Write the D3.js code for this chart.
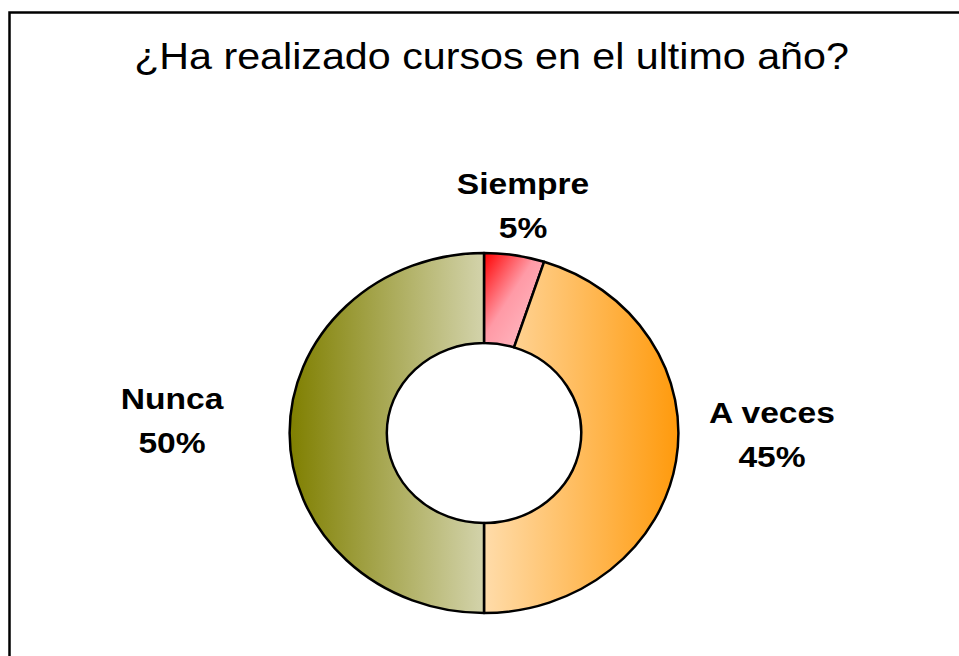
<!DOCTYPE html>
<html>
<head>
<meta charset="utf-8">
<script src="https://cdn.jsdelivr.net/npm/d3@7"></script>
<style>
  body { margin: 0; background: #fff; }
  text { font-family: "Liberation Sans", Arial, sans-serif; }
</style>
</head>
<body>
<div id="chart"></div>
<script>
// data
var categories = ["Siempre", "A veces", "Nunca"];
var values = [5, 45, 50];
var title = "¿Ha realizado cursos en el ultimo año?";

// gradient stops per slice (style only)
var sliceGrad = {
  "Siempre": {x1: "0%", y1: "0%", x2: "100%", y2: "100%", stops: [["0%", "#ff0000"], ["45%", "#ff9aa6"], ["100%", "#ffc4cc"]]},
  "A veces": {x1: "0%", y1: "0%", x2: "100%", y2: "0%", stops: [["0%", "#ffdcaa"], ["100%", "#ff9a0c"]]},
  "Nunca":   {x1: "0%", y1: "0%", x2: "100%", y2: "0%", stops: [["0%", "#7f7f00"], ["100%", "#d3d3ab"]]}
};

// label centres (layout)
var labelPos = {
  "Siempre": [523, 194],
  "A veces": [772, 423],
  "Nunca":   [172, 409]
};

var width = 959, height = 656;
var cx = 484, cy = 433, rOuter = 180, rInner = 90, stretch = 1.08;

var svg = d3.select("#chart")
  .append("svg")
    .attr("width", width)
    .attr("height", height);

// frame (runs off the right and bottom edges)
svg.append("rect")
  .attr("x", 9.5).attr("y", 12.5)
  .attr("width", 1200).attr("height", 1200)
  .attr("fill", "#fff")
  .attr("stroke", "#000")
  .attr("stroke-width", 2.5);

var defs = svg.append("defs");
categories.forEach(function(c, i) {
  var g = sliceGrad[c];
  var lg = defs.append("linearGradient")
    .attr("id", "grad" + i)
    .attr("x1", g.x1).attr("y1", g.y1)
    .attr("x2", g.x2).attr("y2", g.y2);
  g.stops.forEach(function(s) {
    lg.append("stop").attr("offset", s[0]).attr("stop-color", s[1]);
  });
});

// title
svg.append("text")
  .attr("transform", "translate(" + (width / 2 + 12) + ",69) scale(1.145,1)")
  .attr("text-anchor", "middle")
  .attr("font-size", 36)
  .attr("fill", "#000")
  .text(title);

var pie = d3.pie().sort(null).value(function(d) { return d; });
var arc = d3.arc().innerRadius(rInner).outerRadius(rOuter);

var data = pie(values);

var g = svg.append("g")
  .attr("transform", "translate(" + cx + "," + cy + ") scale(" + stretch + ",1)");

g.selectAll("path")
  .data(data)
  .enter()
  .append("path")
    .attr("d", arc)
    .attr("fill", function(d, i) { return "url(#grad" + i + ")"; })
    .attr("stroke", "#000")
    .attr("stroke-width", 2.5)
    .attr("stroke-linejoin", "round")
    .attr("vector-effect", "non-scaling-stroke");

// labels
var total = d3.sum(values);
var lab = svg.selectAll("g.lab")
  .data(data)
  .enter()
  .append("g")
    .attr("class", "lab")
    .attr("transform", function(d, i) {
      var p = labelPos[categories[i]];
      return "translate(" + p[0] + "," + p[1] + ") scale(1.12,1)";
    });

lab.append("text")
  .attr("text-anchor", "middle")
  .attr("font-size", 30)
  .attr("font-weight", "bold")
  .text(function(d, i) { return categories[i]; });

lab.append("text")
  .attr("text-anchor", "middle")
  .attr("font-size", 30)
  .attr("font-weight", "bold")
  .attr("y", 44)
  .text(function(d) { return Math.round(d.value / total * 100) + "%"; });
</script>
</body>
</html>
